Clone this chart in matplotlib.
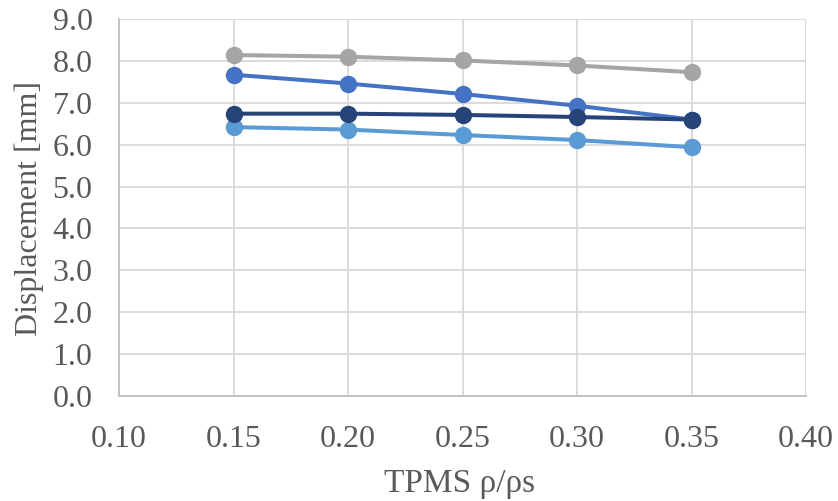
import matplotlib
matplotlib.use('Agg')
import matplotlib.pyplot as plt

# data
x = [0.15, 0.20, 0.25, 0.30, 0.35]
gray_vals = [8.14, 8.10, 8.01, 7.89, 7.73]
blue_vals = [7.67, 7.46, 7.21, 6.93, 6.60]
light_vals = [6.42, 6.36, 6.23, 6.11, 5.94]
navy_vals = [6.74, 6.74, 6.71, 6.66, 6.60]

xticks = [0.10, 0.15, 0.20, 0.25, 0.30, 0.35, 0.40]
yticks = [0, 1, 2, 3, 4, 5, 6, 7, 8, 9]

plt.rcParams['font.family'] = ['Liberation Serif', 'DejaVu Serif']

fig = plt.figure(figsize=(8.38, 5.01), dpi=100)
ax = fig.add_axes([119/838, 1 - 396/501, 687/838, 377/501])

series = [(gray_vals, '#A5A5A5'), (blue_vals, '#4472C4'),
          (light_vals, '#5B9BD5'), (navy_vals, '#264478')]
for vals, c in series:
    ax.plot(x, vals, color=c, lw=2.9, marker='o', ms=11.5, zorder=3)

ax.set_xlim(0.10, 0.40)
ax.set_ylim(0, 9)
ax.set_xticks(xticks)
ax.set_yticks(yticks)
ax.set_xticklabels(['%.2f' % v for v in xticks])
ax.set_yticklabels(['%.1f' % v for v in yticks])
ax.grid(True, color='#D9D9D9', lw=1.3)
ax.set_axisbelow(True)
for s in ['top', 'right']:
    ax.spines[s].set_visible(False)
for s in ['left', 'bottom']:
    ax.spines[s].set_color('#BFBFBF')
    ax.spines[s].set_linewidth(1.3)
ax.tick_params(length=0, labelsize=23, labelcolor='#595959')
ax.tick_params(axis='x', pad=21)
ax.tick_params(axis='y', pad=19)

ax.set_xlabel('TPMS ρ/ρs', fontsize=24, color='#595959')
ax.set_ylabel('Displacement [mm]', fontsize=23, color='#595959')
ax.xaxis.set_label_coords((460 - 119)/687, -(484 - 396)/377)
ax.yaxis.set_label_coords(-(119 - 29)/687, (396 - 208)/377)
ax.xaxis.label.set_va('center')
ax.yaxis.label.set_va('center')

fig.savefig('out.png', dpi=100)
